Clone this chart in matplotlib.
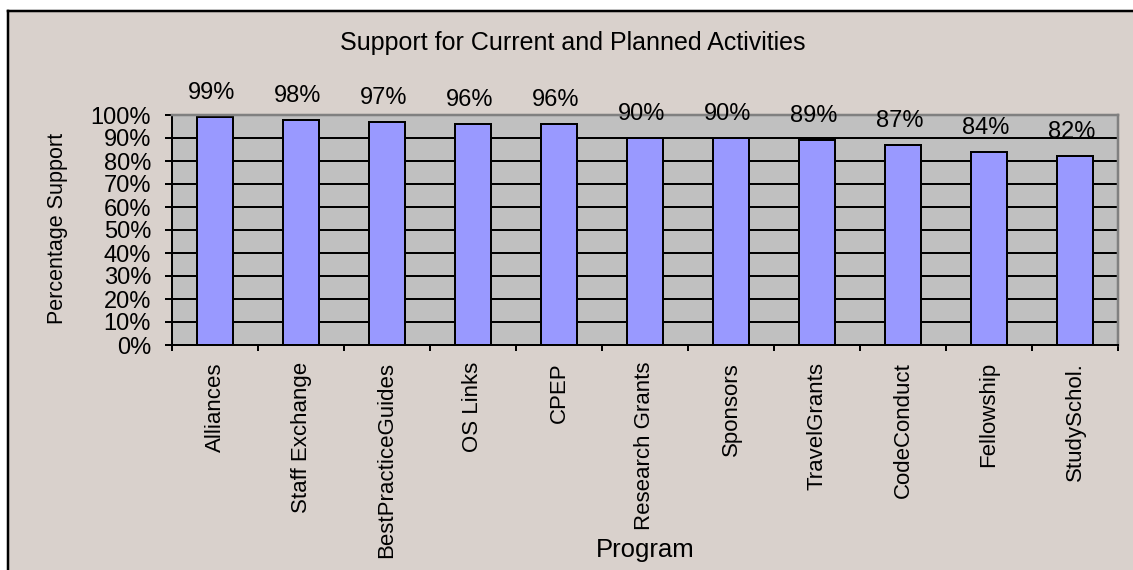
import matplotlib.pyplot as plt
from matplotlib.patches import Rectangle
from matplotlib.lines import Line2D
from matplotlib.ticker import FuncFormatter, MultipleLocator
import numpy as np

plt.rcParams['font.family'] = ['Liberation Sans', 'DejaVu Sans']

# ---- data ----
programs = ["Alliances", "Staff Exchange", "BestPracticeGuides", "OS Links", "CPEP",
            "Research Grants", "Sponsors", "TravelGrants", "CodeConduct",
            "Fellowship", "StudySchol."]
support = [0.99, 0.98, 0.97, 0.96, 0.96, 0.90, 0.90, 0.89, 0.87, 0.84, 0.82]

# ---- style ----
OUTER_BG, PANEL_BG, PLOT_BG = 'white', '#d9d1cc', '#c0c0c0'
BAR_C, EDGE_C, BORDER_C = '#9999ff', 'black', '#808080'
PX = 72 / 100  # points per pixel at dpi 100
W, H = 1133, 570

fig = plt.figure(figsize=(11.33, 5.70), dpi=100, facecolor=PANEL_BG)

# chart frame: only its left and top edges fall inside the picture
left, top = 8 / W, 1 - 11 / H
fig.patches.append(Rectangle((0, 0), left, 1, transform=fig.transFigure,
                             facecolor=OUTER_BG, edgecolor='none', zorder=-2))
fig.patches.append(Rectangle((0, top), 1, 1 - top, transform=fig.transFigure,
                             facecolor=OUTER_BG, edgecolor='none', zorder=-2))
fig.lines.append(Line2D([left, left], [0, top], transform=fig.transFigure,
                        color='black', linewidth=2.5 * PX, zorder=-1))
fig.lines.append(Line2D([left, 1], [top, top], transform=fig.transFigure,
                        color='black', linewidth=2.5 * PX, zorder=-1))

ax = fig.add_axes([172 / W, 1 - 345 / H, (1118 - 172) / W, 230 / H])
ax.set_facecolor(PLOT_BG)

x = np.arange(len(programs))
ax.bar(x, support, width=0.42, color=BAR_C, edgecolor=EDGE_C,
       linewidth=2 * PX, zorder=2)

for xi, v in zip(x, support):
    ax.annotate(f"{v:.0%}", (xi, v), xytext=(-3 * PX, 24 * PX),
                textcoords='offset points', ha='center', va='center',
                fontsize=17, color='black')

ax.set_xlim(-0.5, len(programs) - 0.5)
ax.set_ylim(0, 1)
ax.yaxis.set_major_locator(MultipleLocator(0.1))
ax.yaxis.set_major_formatter(FuncFormatter(lambda v, _: f"{v:.0%}"))
ax.set_axisbelow(True)
ax.yaxis.grid(True, color='black', linewidth=2 * PX)

ax.set_xticks(x)
ax.set_xticklabels(programs, rotation=90, va='top', ha='center', fontsize=16)
ax.set_xticks(np.arange(len(programs) + 1) - 0.5, minor=True)
ax.tick_params(axis='x', which='major', length=0, pad=17 * PX)
ax.tick_params(axis='x', which='minor', length=6 * PX, width=2 * PX,
               direction='out', color='black')
ax.tick_params(axis='y', length=7 * PX, width=2 * PX, direction='out',
               labelsize=17, pad=14 * PX)

for side in ['left', 'bottom']:
    ax.spines[side].set_color('black')
    ax.spines[side].set_linewidth(2 * PX)
for side in ['top', 'right']:
    ax.spines[side].set_color(BORDER_C)
    ax.spines[side].set_linewidth(2.5 * PX)

fig.text(57 / W, 1 - 228 / H, "Percentage Support", rotation=90,
         ha='center', va='center', fontsize=15.5)
fig.text(645 / W, 1 - 550 / H, "Program", ha='center', va='center',
         fontsize=18.5)
fig.text(573 / W, 1 - 43 / H, "Support for Current and Planned Activities",
         ha='center', va='center', fontsize=18)

fig.savefig("out.png", dpi=100, facecolor=PANEL_BG)
